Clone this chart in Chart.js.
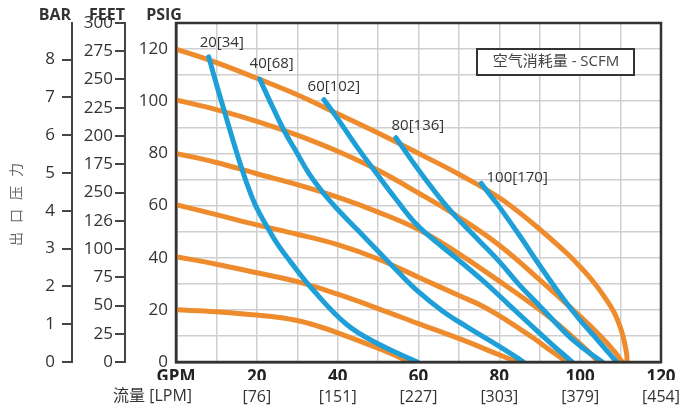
<!DOCTYPE html>
<html>
<head>
<meta charset="utf-8">
<script src="https://cdn.jsdelivr.net/npm/chart.js@4.4.1/dist/chart.umd.min.js"></script>
<style>
html, body { margin: 0; padding: 0; background: #fff; }
</style>
</head>
<body>
<canvas id="pump" width="683" height="411"></canvas>
<script>
// x axis: flow
const GPM_TICKS = [0, 10, 20, 30, 40, 50, 60, 70, 80, 90, 100, 110, 120];
const GPM_LABEL_AT = [0, 20, 40, 60, 80, 100, 120];
const GPM_LABELS = ['GPM', '20', '40', '60', '80', '100', '120'];
const LPM_LABELS = ['', '[76]', '[151]', '[227]', '[303]', '[379]', '[454]'];

// left axes
const PSIG_TICKS = [0, 10, 20, 30, 40, 50, 60, 70, 80, 90, 100, 110, 120, 130];
const BAR_TICKS = [0, 1, 2, 3, 4, 5, 6, 7, 8];
const FEET_TICKS = [0, 25, 50, 75, 100, 125, 150, 175, 200, 225, 250, 275, 300];
const FEET_LABELS = ['0', '25', '50', '75', '100', '126', '250', '175', '200', '225', '250', '275', '300'];

// discharge pressure curves [GPM, PSIG]
const P20 = [[0, 20], [10, 19.3], [20, 18], [25, 17.2], [30, 15.9], [35, 13.8], [40, 11.2], [50, 5.3], [58, 0]];
const P40 = [[0, 40.4], [10, 37.5], [20, 34.2], [30, 30.8], [40, 26], [50, 20.5], [60, 14.7], [72, 7.8], [78, 4], [84.4, 0]];
const P60 = [[0, 60.3], [10, 56.5], [20, 52.6], [30, 49], [40, 45], [50, 39.5], [60, 32.5], [70, 25.5], [76, 21.3], [82, 15.8], [88.6, 9], [93, 4], [96.8, 0]];
const P80 = [[0, 80], [10, 76.5], [20, 72.2], [30, 68], [40, 63.2], [50, 57.5], [60, 50.8], [70, 41.5], [80, 31], [90, 20], [96, 12.5], [101, 5.5], [104.6, 0]];
const P100 = [[0, 100.5], [10, 96.8], [20, 92.3], [30, 87], [40, 80.8], [50, 73.5], [60, 64.8], [70, 55.5], [80, 44.8], [90, 31.5], [100, 17.5], [105, 10], [108.5, 4], [110.4, 0]];
const P120 = [[0, 120], [10, 114.8], [20, 108.8], [30, 102.5], [40, 95.2], [50, 87.8], [60, 80], [70, 72], [80, 63], [88, 53.5], [96.5, 42], [100, 36.5], [103.4, 30.5], [106, 25], [108.4, 19], [110, 13], [110.9, 8], [111.5, 3], [111.6, 0]];

// air consumption curves [GPM, PSIG]
const A20 = [[8.1, 117], [10, 106.5], [12, 96], [14, 85.5], [16, 75.5], [18, 66.5], [20, 59], [22.5, 52], [25, 45.5], [28.3, 38.5], [34, 27.5], [42.4, 14.2], [50.6, 6.5], [59.7, 0]];
const A40 = [[20.7, 108.5], [24, 97.5], [27, 88], [30, 80], [33, 72], [36.6, 64.5], [40, 58.5], [45, 50.5], [50, 42.5], [55, 34.5], [59.6, 27.5], [66, 19.5], [72, 13.5], [80, 6], [86, 0]];
const A60 = [[36.6, 100.6], [39.6, 94.2], [45, 82], [50, 71.5], [54.4, 62.5], [59.6, 52.6], [66, 44], [70, 39], [76.2, 30.8], [82, 22.5], [88.6, 13], [93, 6.8], [98, 0]];
const A80 = [[54.4, 86], [58, 78], [62, 69.5], [66, 61.5], [70, 54.5], [75, 46.5], [80, 38.5], [85, 29.5], [90, 21.5], [96.8, 10.5], [101, 5], [105.5, 0]];
const A100 = [[75.5, 68.5], [78, 63.5], [80, 59.5], [85, 48.5], [90, 37], [95, 26], [100, 16], [104, 9], [109, 0]];
const AIR_LABELS = ['20[34]', '40[68]', '60[102]', '80[136]', '100[170]'];

const AIR_SERIES = [A20, A40, A60, A80, A100];
const PRESSURE_SERIES = [P20, P40, P60, P80, P100, P120];
// label offset from start of each air curve, px
const LABEL_SHIFT = [[13, -14], [12, -15], [10, -13], [22, -12], [36, -6]];

const FONT = "'Open Sans', 'Noto Sans CJK SC', sans-serif";
const ORANGE = '#EE8B2C';
const BLUE = '#1E9FD8';

const toPts = s => s.map(p => ({ x: p[0], y: p[1] }));

const datasets = [];
AIR_SERIES.forEach((s, i) => datasets.push({
    label: AIR_LABELS[i], data: toPts(s), borderColor: BLUE, borderWidth: 5,
    pointRadius: 0, tension: 0.4, borderCapStyle: 'round', yAxisID: 'psig'
}));
PRESSURE_SERIES.forEach((s, i) => datasets.push({
    label: 'p' + i, data: toPts(s), borderColor: ORANGE, borderWidth: 5,
    pointRadius: 0, tension: 0.4, borderCapStyle: 'round', yAxisID: 'psig'
}));

const extras = {
    id: 'extras',
    afterDatasetsDraw(chart) {
        const { ctx, chartArea: a, scales } = chart;
        ctx.save();
        ctx.strokeStyle = '#333';
        ctx.lineWidth = 2.5;
        ctx.strokeRect(a.left, a.top, a.right - a.left, a.bottom - a.top);

        // air curve labels
        ctx.font = '15px ' + FONT;
        ctx.fillStyle = '#333';
        ctx.textAlign = 'center';
        ctx.textBaseline = 'middle';
        AIR_SERIES.forEach((s, i) => {
            const px = scales.x.getPixelForValue(s[0][0]) + LABEL_SHIFT[i][0];
            const py = scales.psig.getPixelForValue(s[0][1]) + LABEL_SHIFT[i][1];
            ctx.fillText(AIR_LABELS[i], px, py);
        });

        // legend box
        const bx = a.right - 184, by = a.top + 26;
        ctx.fillStyle = '#fff';
        ctx.fillRect(bx, by, 157, 26);
        ctx.lineWidth = 2;
        ctx.strokeRect(bx, by, 157, 26);
        ctx.fillStyle = '#444';
        ctx.fillText('空气消耗量 - SCFM', bx + 79, by + 13);
        ctx.restore();
    },
    afterDraw(chart) {
        const { ctx, chartArea: a } = chart;
        ctx.save();
        ctx.fillStyle = '#333';
        ctx.textAlign = 'center';
        ctx.textBaseline = 'middle';
        ctx.font = 'bold 16px ' + FONT;
        ctx.fillText('BAR', 55, 15);
        ctx.fillText('FEET', 107, 15);
        ctx.fillText('PSIG', 164, 15);

        ctx.font = '16px ' + FONT;
        ctx.textAlign = 'right';
        ctx.fillText('流量 [LPM]', a.left + 16, 396);

        // vertical title, read bottom to top
        ctx.fillStyle = '#666';
        ctx.font = '14px ' + FONT;
        ctx.textAlign = 'center';
        const title = '出口压力';
        for (let i = 0; i < title.length; i++) {
            ctx.save();
            ctx.translate(17, 239 - i * 23);
            ctx.rotate(-Math.PI / 2);
            ctx.fillText(title[i], 0, 0);
            ctx.restore();
        }
        ctx.restore();
    }
};

const setTicks = list => scale => { scale.ticks = list.map(v => ({ value: v })); };

new Chart(document.getElementById('pump'), {
    type: 'line',
    data: { datasets: datasets },
    options: {
        responsive: false,
        animation: false,
        devicePixelRatio: 1,
        layout: { padding: { top: 23, right: 22, left: 0, bottom: 0 } },
        plugins: { legend: { display: false }, tooltip: { enabled: false } },
        scales: {
            x: {
                type: 'linear', position: 'bottom', weight: 1, min: 0, max: 120,
                afterBuildTicks: setTicks(GPM_TICKS),
                afterFit: s => { s.height = 18; },
                grid: { color: '#cfcfcf', lineWidth: 1.5, drawTicks: false },
                border: { color: '#333', width: 2.5 },
                ticks: {
                    autoSkip: false, maxRotation: 0, padding: 5, color: '#222',
                    font: { family: FONT, size: 17, weight: 'bold' },
                    callback: v => { const i = GPM_LABEL_AT.indexOf(v); return i < 0 ? '' : GPM_LABELS[i]; }
                }
            },
            x2: {
                type: 'linear', position: 'bottom', weight: 2, min: 0, max: 120,
                afterBuildTicks: setTicks(GPM_LABEL_AT),
                afterFit: s => { s.height = 31; },
                grid: { display: false },
                border: { display: false },
                ticks: {
                    autoSkip: false, maxRotation: 0, padding: 0, color: '#333',
                    font: { family: FONT, size: 16 },
                    callback: v => LPM_LABELS[GPM_LABEL_AT.indexOf(v)]
                }
            },
            psig: {
                type: 'linear', position: 'left', weight: 1, min: 0, max: 130,
                afterBuildTicks: setTicks(PSIG_TICKS),
                afterFit: s => { s.width = 51; },
                grid: { color: '#cfcfcf', lineWidth: 1.5, drawTicks: false },
                border: { color: '#333', width: 2.5 },
                ticks: {
                    padding: 8, color: '#333', font: { family: FONT, size: 17 },
                    callback: v => (v % 20 === 0 && v <= 120) ? String(v) : ''
                }
            },
            feet: {
                type: 'linear', position: 'left', weight: 2, min: 0, max: 300,
                afterBuildTicks: setTicks(FEET_TICKS),
                afterFit: s => { s.width = 53; },
                grid: { drawOnChartArea: false, color: '#444', lineWidth: 2, tickLength: 10 },
                border: { color: '#444', width: 2 },
                ticks: {
                    padding: 2, color: '#333', font: { family: FONT, size: 17 },
                    callback: v => FEET_LABELS[FEET_TICKS.indexOf(v)]
                }
            },
            bar: {
                type: 'linear', position: 'left', weight: 3, min: 0, max: 130 / 14.5,
                afterBuildTicks: setTicks(BAR_TICKS),
                afterFit: s => { s.width = 72; },
                grid: { drawOnChartArea: false, color: '#444', lineWidth: 2, tickLength: 10 },
                border: { color: '#444', width: 2 },
                ticks: {
                    padding: 7, color: '#333', font: { family: FONT, size: 17 },
                    callback: v => String(v)
                }
            }
        }
    },
    plugins: [extras]
});
</script>
</body>
</html>
